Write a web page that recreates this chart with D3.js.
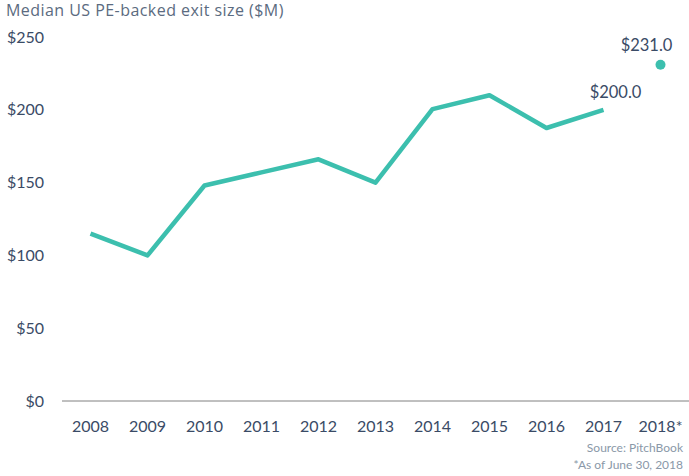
<!DOCTYPE html>
<html>
<head>
<meta charset="utf-8">
<script src="https://cdn.jsdelivr.net/npm/d3@7"></script>
<style>
  body { margin: 0; background: #fff; }
  svg { display: block; font-family: Lato, "Open Sans", sans-serif; }
</style>
</head>
<body>
<svg id="chart" width="689" height="476"></svg>
<script>
const years = ['2008', '2009', '2010', '2011', '2012', '2013', '2014', '2015', '2016', '2017'];
const values = [115, 100, 148, 157, 166, 150, 200.5, 210, 187.5, 200];
const partialYear = '2018*';
const partialValue = 231;
const yTicks = [0, 50, 100, 150, 200, 250];

const svg = d3.select('#chart');
const teal = '#3cbfae';
const ink = '#3a4b66';

const x = d3.scaleBand()
  .domain(years.concat([partialYear]))
  .range([62, 689]);

const y = d3.scaleLinear()
  .domain([0, 250])
  .range([401, 37]);

svg.append('text')
  .attr('x', 6).attr('y', 16)
  .attr('fill', '#5b6b80')
  .style('font-family', '"Open Sans", sans-serif')
  .style('font-size', '16px')
  .style('letter-spacing', '0.45px')
  .text('Median US PE-backed exit size ($M)');

// y labels
svg.append('g').selectAll('text')
  .data(yTicks)
  .enter().append('text')
  .attr('x', 44)
  .attr('y', d => y(d))
  .attr('dy', '0.35em')
  .attr('text-anchor', 'end')
  .attr('fill', ink)
  .style('font-size', '16px')
  .text(d => '$' + d);

// baseline
svg.append('line')
  .attr('x1', 62).attr('x2', 689)
  .attr('y1', y(0)).attr('y2', y(0))
  .attr('stroke', '#808080')
  .attr('stroke-width', 1);

// x labels
svg.append('g').selectAll('text')
  .data(x.domain())
  .enter().append('text')
  .attr('x', d => x(d) + x.bandwidth() / 2)
  .attr('y', 432)
  .attr('text-anchor', 'middle')
  .attr('fill', ink)
  .style('font-size', '16px')
  .text(d => d);

const line = d3.line()
  .x((d, i) => x(years[i]) + x.bandwidth() / 2)
  .y(d => y(d));

svg.append('path')
  .datum(values)
  .attr('d', line)
  .attr('fill', 'none')
  .attr('stroke', teal)
  .attr('stroke-width', 4.5)
  .attr('stroke-linejoin', 'round');

svg.append('circle')
  .attr('cx', x(partialYear) + x.bandwidth() / 2)
  .attr('cy', y(partialValue))
  .attr('r', 5)
  .attr('fill', teal);

// value labels
const last = years.length - 1;
svg.append('text')
  .attr('x', x(years[last]) + x.bandwidth() / 2 + 12)
  .attr('y', y(values[last]) - 12)
  .attr('text-anchor', 'middle')
  .attr('fill', ink)
  .style('font-size', '16.5px')
  .text('$' + values[last].toFixed(1));

svg.append('text')
  .attr('x', x(partialYear) + x.bandwidth() / 2 - 14)
  .attr('y', y(partialValue) - 14)
  .attr('text-anchor', 'middle')
  .attr('fill', ink)
  .style('font-size', '16.5px')
  .text('$' + partialValue.toFixed(1));

// footnotes
svg.append('text')
  .attr('x', 683).attr('y', 452)
  .attr('text-anchor', 'end')
  .attr('fill', '#8a98a8')
  .style('font-size', '12px')
  .text('Source: PitchBook');

svg.append('text')
  .attr('x', 683).attr('y', 469)
  .attr('text-anchor', 'end')
  .attr('fill', '#8a98a8')
  .style('font-size', '12px')
  .text('*As of June 30, 2018');
</script>
</body>
</html>
